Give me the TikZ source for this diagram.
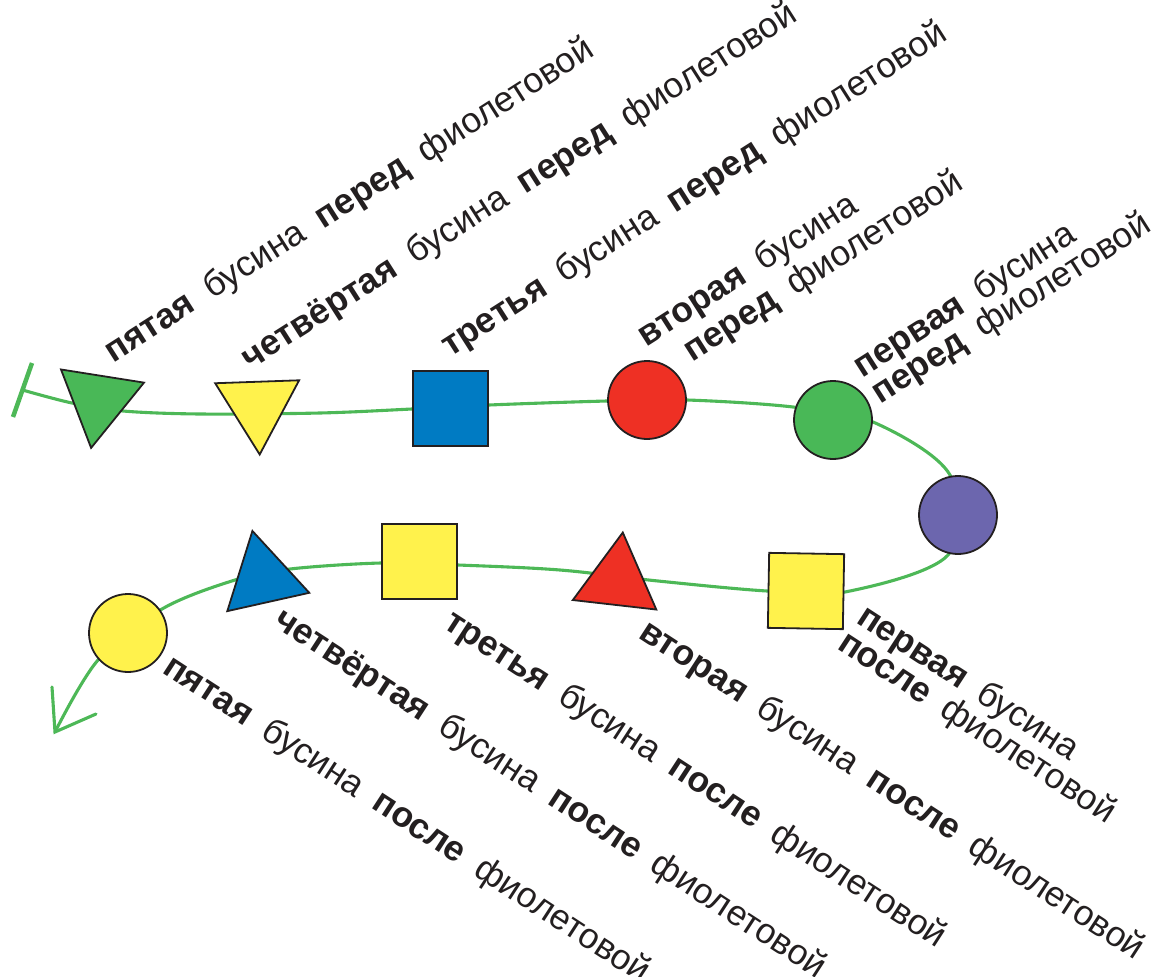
\documentclass[tikz,border=0pt]{standalone}
\usepackage{fontspec}
\setmainfont{Liberation Sans}
\usetikzlibrary{shapes.geometric,backgrounds}
\definecolor{thr}{HTML}{4DB857}
\definecolor{gfill}{HTML}{49B857}
\definecolor{yfill}{HTML}{FFF24C}
\definecolor{bfill}{HTML}{007BC3}
\definecolor{rfill}{HTML}{EE3024}
\definecolor{pfill}{HTML}{6C66AE}
\definecolor{ink}{HTML}{231F20}
\newcommand{\bgap}{\hspace{0.5em}}
\newcommand{\lblfont}{\fontsize{35.5}{35.5}\selectfont}
\tikzset{
  thread/.style={draw=thr, line width=3.1pt, line cap=round},
  bead/.style={draw=ink, line width=1.8pt, inner sep=0pt, outer sep=0pt},
  ball/.style={bead, circle, minimum size=78pt},
  cube/.style={bead, rectangle, minimum size=75pt},
  tri/.style={bead, regular polygon, regular polygon sides=3, minimum size=97pt},
  lbl/.style={anchor=base west, inner sep=0pt, outer sep=0pt, text=ink, font=\lblfont},
  upl/.style={lbl, rotate=32.5},
  lowl/.style={lbl, rotate=-33}
}
\begin{document}
\begin{tikzpicture}[x=1pt,y=-1pt]
\useasboundingbox (0,0) rectangle (1155,976);
% beads before the violet one
\node[tri, fill=gfill, rotate=171] (b5) at (98.7,400) {};
\node[tri, fill=yfill, rotate=182] (b4) at (258,406) {};
\node[cube, fill=bfill] (b3) at (450.5,408.5) {};
\node[ball, fill=rfill] (b2) at (647,400) {};
\node[ball, fill=gfill] (b1) at (833,420) {};
% violet bead
\node[ball, fill=pfill] (v) at (958,515) {};
% beads after the violet one
\node[cube, fill=yfill, rotate=-1] (a1) at (806,591) {};
\node[tri, fill=rfill, rotate=-6.5] (a2) at (617.3,580.7) {};
\node[cube, fill=yfill] (a3) at (419.5,561.5) {};
\node[tri, fill=bfill, rotate=12.6] (a4) at (263,578.3) {};
\node[ball, fill=yfill] (a5) at (128,633) {};
% thread waypoints
\coordinate (tA) at (32,363);
\coordinate (tB) at (13,417);
\coordinate (t0) at (22.5,390);
\coordinate (p1) at (72,403);
\coordinate (p2) at (123,411);
\coordinate (p3) at (200,414);
\coordinate (p4) at (320,413);
\coordinate (p5) at (412,409);
\coordinate (p6) at (489,405);
\coordinate (p7) at (607,401);
\coordinate (p8) at (687,400);
\coordinate (p9) at (793,407);
\coordinate (p10) at (873,422);
\coordinate (p11) at (950,475);
\coordinate (p12) at (948,555);
\coordinate (p13) at (845,592);
\coordinate (p14) at (767,591);
\coordinate (p15) at (658,581);
\coordinate (p16) at (560,570);
\coordinate (p17) at (458,565);
\coordinate (p18) at (381,563);
\coordinate (p19) at (290,569);
\coordinate (p20) at (235,580);
\coordinate (p21) at (162,609);
\coordinate (p22) at (98,660);
\coordinate (tip) at (55,732);
\coordinate (barbL) at (52,687);
\coordinate (barbR) at (96,714);
\begin{scope}[on background layer]
\draw[thread, line cap=butt] plot[smooth, tension=0.55] coordinates {(t0) (p1) (p2) (p3) (p4) (p5) (p6) (p7) (p8) (p9) (p10) (p11) (p12) (p13) (p14) (p15) (p16) (p17) (p18) (p19) (p20) (p21) (p22) (tip)};
\end{scope}
\draw[thread, line width=4.5pt, line cap=butt] (tA) -- (tB);
\draw[thread, line join=miter] (barbL) -- (tip) -- (barbR);
% labels before
\node[upl] (u5) at (113,363) {\textbf{пятая}\bgap бусина\bgap \textbf{перед}\bgap фиолетовой};
\node[upl] (u4) at (250,370) {\textbf{четвёртая}\bgap бусина\bgap \textbf{перед}\bgap фиолетовой};
\node[upl] (u3) at (450,357) {\textbf{третья}\bgap бусина\bgap \textbf{перед}\bgap фиолетовой};
\node[upl] (u2a) at (646,347) {\textbf{вторая}\bgap бусина};
\node[upl] (u2b) at (692,362) {\textbf{перед}\bgap фиолетовой};
\node[upl] (u1a) at (862,378) {\textbf{первая}\bgap бусина};
\node[upl] (u1b) at (880,404) {\textbf{перед}\bgap фиолетовой};
% labels after
\node[lowl] (l1a) at (855,622) {\textbf{первая}\bgap бусина};
\node[lowl] (l1b) at (836,648) {\textbf{после}\bgap фиолетовой};
\node[lowl] (l2) at (637,637) {\textbf{вторая}\bgap бусина\bgap \textbf{после}\bgap фиолетовой};
\node[lowl] (l3) at (442,627) {\textbf{третья}\bgap бусина\bgap \textbf{после}\bgap фиолетовой};
\node[lowl] (l4) at (272,625) {\textbf{четвёртая}\bgap бусина\bgap \textbf{после}\bgap фиолетовой};
\node[lowl] (l5) at (161,672) {\textbf{пятая}\bgap бусина\bgap \textbf{после}\bgap фиолетовой};
\end{tikzpicture}
\end{document}
